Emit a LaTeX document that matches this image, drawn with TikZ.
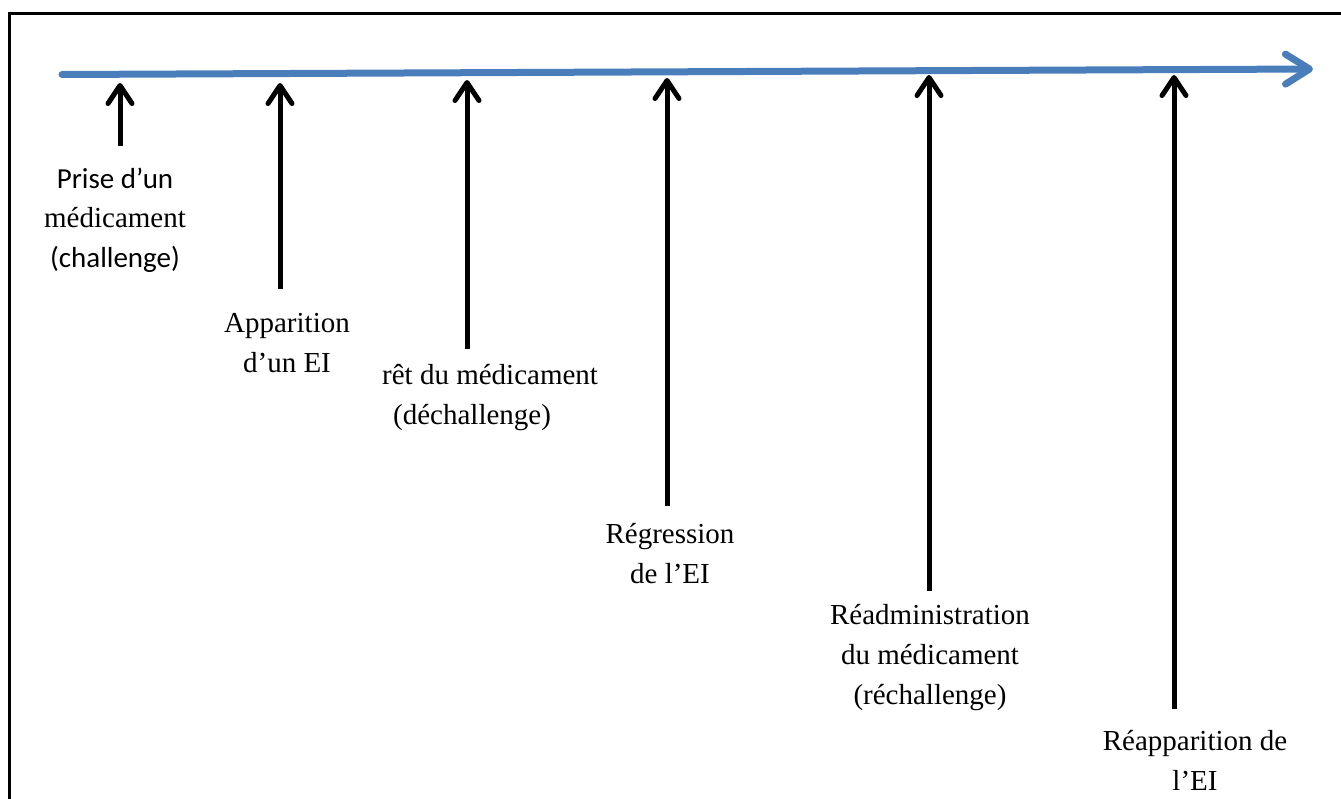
\documentclass[tikz,border=0pt]{standalone}
\usepackage{fontspec}
\setmainfont{Liberation Serif}
\newfontfamily\calibri{Carlito}
\usetikzlibrary{arrows.meta}
\definecolor{tlblue}{RGB}{74,126,187}
\tikzset{
  timeline/.style={draw=tlblue, line width=7pt, line cap=round, -{Straight Barb[round, length=24pt, width=30pt]}},
  event/.style={draw=black, line width=5pt, -{Straight Barb[round, length=18pt, width=24pt]}},
  lbl/.style={align=center, inner sep=0pt, font=\fontsize{29pt}{40pt}\selectfont},
  lblsans/.style={align=center, inner sep=0pt, font=\calibri\fontsize{29pt}{39.5pt}\selectfont},
}
\begin{document}
\begin{tikzpicture}[x=1pt,y=-1pt]
\useasboundingbox (0,0) rectangle (1341,798);
\draw[line width=3pt] (9,13) rectangle (1350,810);
% timeline
\coordinate (ts) at (62,74.5);
\coordinate (te) at (1313,69);
\draw[timeline] (ts) -- (te);
% event points
\coordinate (t1) at (120,83);  \coordinate (b1) at (120,146);
\coordinate (t2) at (280,83);  \coordinate (b2) at (280,289);
\coordinate (t3) at (467,80);  \coordinate (b3) at (467,349);
\coordinate (t4) at (667,78);  \coordinate (b4) at (667,506);
\coordinate (t5) at (929,75);  \coordinate (b5) at (929,591);
\coordinate (t6) at (1174,75); \coordinate (b6) at (1174,709);
\foreach \i in {1,...,6} \draw[event] (b\i) -- (t\i);
% labels
\node[lblsans] (l1) at (115,220) {Prise d’un\\{\rmfamily médicament}\\(challenge)};
\node[lbl] (l2) at (287,343) {Apparition\\d’un EI};
\node[lbl, align=left, anchor=west] (l3) at (382,398) {rêt du médicament\\\hspace*{11pt}(déchallenge)};
\node[lbl] (l4) at (670,554) {Régression\\de l’EI};
\node[lbl] (l5) at (930,658) {Réadministration\\du médicament\\(réchallenge)};
\node[lbl] (l6) at (1195,760) {Réapparition de\\l’EI};
\end{tikzpicture}
\end{document}
